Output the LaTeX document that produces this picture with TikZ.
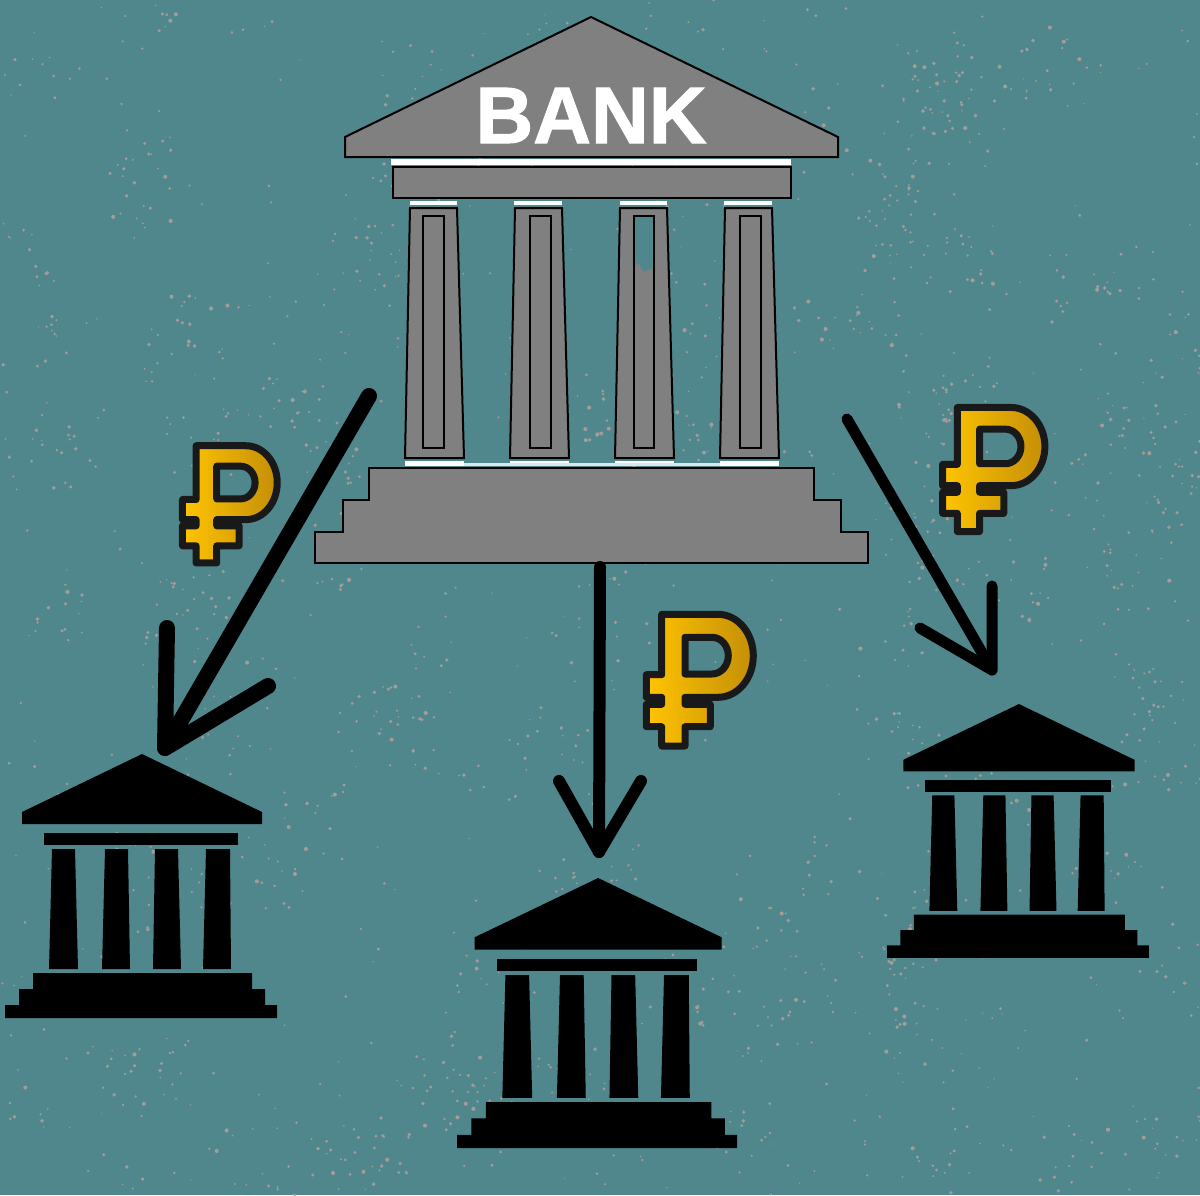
\documentclass[tikz,border=0pt]{standalone}
\usepackage{fontspec}
\setmainfont{Liberation Sans}
\newfontfamily\bankfont[BoldFeatures={FakeBold=1.4}]{Liberation Sans}
\definecolor{bgteal}{HTML}{4F878D}
\definecolor{speck}{HTML}{A39C9A}
\definecolor{bankgray}{HTML}{808080}
\definecolor{goldl}{HTML}{FFC400}
\definecolor{goldr}{HTML}{C48E08}
\begin{document}
\begin{tikzpicture}[x=1pt, y=-1pt,
  bigpart/.style={draw=black, fill=bankgray, line width=2pt},
  inner/.style={draw=black, line width=2.8pt},
  whiteband/.style={fill=white, draw=none},
  arrowthick/.style={line width=16pt, line cap=round, line join=round},
  arrowmid/.style={line width=12pt, line cap=round, line join=round},
  arrowthin/.style={line width=11pt, line cap=round, line join=round},
  bankword/.style={text=white, font=\bankfont\bfseries\fontsize{80}{80}\selectfont, inner sep=0pt},
  smallbank/.pic={
    \fill[black] (137,0) -- (257,58) -- (257,70) -- (17,70) -- (17,58) -- cycle;
    \fill[black] (39,79) rectangle (233,91);
    \fill[black] (47,95) -- (70,95) -- (73,215) -- (44,215) -- cycle;
    \fill[black] (100,95) -- (123,95) -- (125,215) -- (97,215) -- cycle;
    \fill[black] (150,95) -- (173,95) -- (176,215) -- (148,215) -- cycle;
    \fill[black] (201,95) -- (225,95) -- (226,215) -- (198,215) -- cycle;
    \fill[black] (28,219) -- (247,219) -- (247,235) -- (260,235) -- (260,251) -- (272,251)
      -- (272,264) -- (0,264) -- (0,251) -- (14,251) -- (14,235) -- (28,235) -- cycle;
  },
  ruble/.pic={
    \path[left color=goldl, right color=goldr, draw=black!90, line width=7pt, line join=round, even odd rule]
      (31.7,14.3) -- (88,14.3) arc[start angle=-90, end angle=90, x radius=35.3, y radius=41.5]
      -- (55,97.3) -- (55,104.3) -- (80.3,104.3) -- (80.3,126.7) -- (55,126.7) -- (55,146)
      -- (31.7,146) -- (31.7,126.7) -- (16.3,126.7) -- (16.3,104.3) -- (31.7,104.3) -- (31.7,97.3)
      -- (16.3,97.3) -- (16.3,74.7) -- (31.7,74.7) -- cycle
      (55,37.3) -- (82,37.3) arc[start angle=-90, end angle=90, x radius=16.3, y radius=18.35]
      -- (55,74) -- cycle;
  }]
  \useasboundingbox (0,0) rectangle (1200,1195);
  \fill[bgteal] (0,0) rectangle (1200,1195);

  \pgfmathsetseed{41}
  \foreach \c in {1,...,130} {
    \pgfmathsetmacro{\cx}{1200*rnd}
    \pgfmathsetmacro{\cy}{1195*rnd}
    \foreach \s in {1,...,11} {
      \pgfmathsetmacro{\sx}{\cx+70*(rnd-.5)}
      \pgfmathsetmacro{\sy}{\cy+70*(rnd-.5)}
      \pgfmathsetmacro{\sr}{.8+1.3*rnd}
      \fill[speck] (\sx,\sy) circle[radius=\sr];
    }
  }
  \foreach \s in {1,...,600} {
    \pgfmathsetmacro{\sx}{1200*rnd}
    \pgfmathsetmacro{\sy}{1195*rnd}
    \pgfmathsetmacro{\sr}{.6+1.1*rnd}
    \fill[speck] (\sx,\sy) circle[radius=\sr];
  }

  \path[bigpart] (591,17) -- (838,137) -- (838,157) -- (345,157) -- (345,137) -- cycle;
  \node (bankword) [bankword] at (591,115.5) {BANK};
  \fill[whiteband] (391,159) rectangle (791,164.5);
  \path[bigpart] (393,167) rectangle (791,198);

  \fill[whiteband] (410,201) rectangle (457,205);
  \fill[whiteband] (514,201) rectangle (562,205);
  \fill[whiteband] (620,201) rectangle (667,205);
  \fill[whiteband] (724,201) rectangle (772,205);
  \path[bigpart] (410,208) -- (457,208) -- (464,458) -- (405,458) -- cycle;
  \path[bigpart] (515,208) -- (562,208) -- (569,458) -- (510,458) -- cycle;
  \path[bigpart] (620,208) -- (667,208) -- (674,458) -- (615,458) -- cycle;
  \path[bigpart] (725,208) -- (772,208) -- (779,458) -- (720,458) -- cycle;
  \path[inner] (423,216) rectangle (444,448);
  \path[inner] (530,216) rectangle (551,448);
  \fill[bgteal] (634,217) -- (653,217) -- (653,268) -- (644,272) -- (638,262) -- (634,268) -- cycle;
  \path[inner] (634,216) rectangle (654,448);
  \path[inner] (740,216) rectangle (761,448);
  \fill[whiteband] (405,461) rectangle (464,465.5);
  \fill[whiteband] (510,461) rectangle (569,465.5);
  \fill[whiteband] (615,461) rectangle (674,465.5);
  \fill[whiteband] (720,461) rectangle (779,465.5);
  \fill[white!80!bgteal] (464,463) rectangle (720,465.5);
  \path[bigpart] (369,468) -- (814,468) -- (814,500) -- (841,500) -- (841,532) -- (868,532)
    -- (868,563) -- (315,563) -- (315,532) -- (343,532) -- (343,500) -- (369,500) -- cycle;

  \pic at (5,754) {smallbank};
  \pic[xscale=1.03, yscale=1.023] at (457,878) {smallbank};
  \pic[xscale=.963, yscale=.962] at (887,704) {smallbank};

  \pic[xscale=.886, yscale=.89] at (168,433) {ruble};
  \pic at (630,600) {ruble};
  \pic[xscale=.956, yscale=.942] at (927,394) {ruble};

  \coordinate (leftfrom) at (369,396);
  \coordinate (lefttip) at (165,748);
  \coordinate (leftbarba) at (167,628);
  \coordinate (leftbarbb) at (268,686);
  \coordinate (midfrom) at (600,567);
  \coordinate (midtip) at (599,852);
  \coordinate (midbarba) at (559,781);
  \coordinate (midbarbb) at (641,781);
  \coordinate (rightfrom) at (847,419);
  \coordinate (righttip) at (992,670);
  \coordinate (rightbarba) at (992,586);
  \coordinate (rightbarbb) at (920,628);
  \draw[arrowthick] (leftfrom) -- (lefttip);
  \draw[arrowthick] (leftbarba) -- (lefttip) -- (leftbarbb);
  \draw[arrowmid] (midfrom) -- (midtip);
  \draw[arrowmid] (midbarba) -- (midtip) -- (midbarbb);
  \draw[arrowthin] (rightfrom) -- (righttip);
  \draw[arrowthin] (rightbarba) -- (righttip) -- (rightbarbb);
\end{tikzpicture}
\end{document}
